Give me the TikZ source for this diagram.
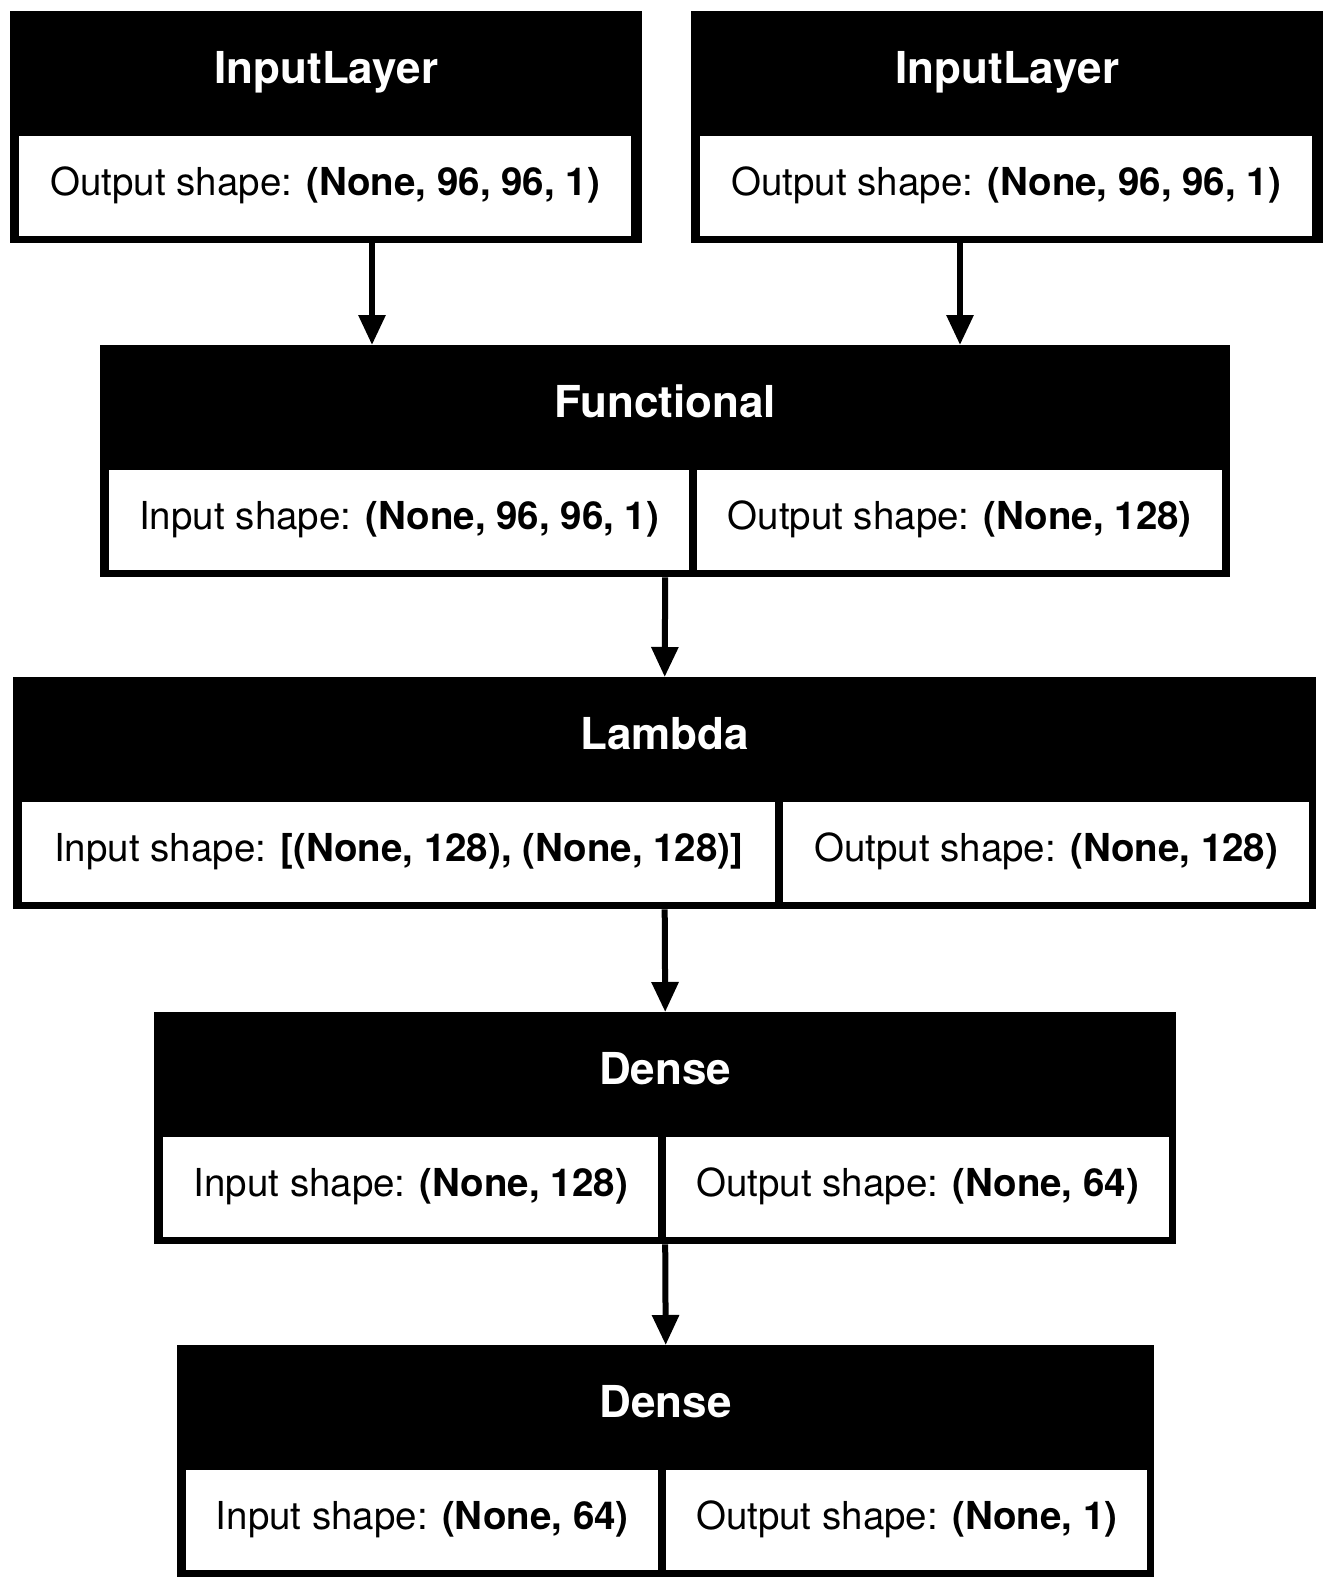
\documentclass[tikz,border=0pt]{standalone}
\usepackage{fontspec}
\setmainfont{TeX Gyre Heros}
\usetikzlibrary{arrows.meta}

\begin{document}
\begin{tikzpicture}
            [x=1pt,y=-1pt,
             layer/.style={fill=black,text=white,inner sep=0pt,anchor=north west,
                           minimum height=232pt,text height=72pt,text depth=160pt,
                           font=\fontsize{44}{52}\selectfont\bfseries},
             cell/.style={fill=white,inner sep=0pt,anchor=north west,
                          minimum height=100pt,text height=59.5pt,text depth=40.5pt,
                          font=\fontsize{38.5}{46}\selectfont},
             arr/.style={line width=6pt,-{Triangle[length=30pt,width=26pt]}}]
            \fill[white] (0,0) rectangle (1333,1589);
            \useasboundingbox (0,0) rectangle (1333,1589);

            % the two inputs
            \node[layer, minimum width=632pt] (in1) at (10,11) {InputLayer};
            \node[cell, minimum width=612pt] (in1out) at (19,136) {Output shape: \textbf{(None, 96, 96, 1)}};
            \node[layer, minimum width=632pt] (in2) at (691,11) {InputLayer};
            \node[cell, minimum width=612pt] (in2out) at (700,136) {Output shape: \textbf{(None, 96, 96, 1)}};

            % shared network
            \node[layer, minimum width=1130pt] (func) at (100,345) {Functional};
            \node[cell, minimum width=580pt] (funcin) at (109,470) {Input shape: \textbf{(None, 96, 96, 1)}};
            \node[cell, minimum width=525pt] (funcout) at (697,470) {Output shape: \textbf{(None, 128)}};

            \node[layer, minimum width=1303pt] (lam) at (13,677) {Lambda};
            \node[cell, minimum width=753pt] (lamin) at (22,802) {Input shape: \textbf{[(None, 128), (None, 128)]}};
            \node[cell, minimum width=526pt] (lamout) at (783,802) {Output shape: \textbf{(None, 128)}};

            \node[layer, minimum width=1022pt] (dense1) at (154,1012) {Dense};
            \node[cell, minimum width=495pt] (d1in) at (163,1137) {Input shape: \textbf{(None, 128)}};
            \node[cell, minimum width=503pt] (d1out) at (666,1137) {Output shape: \textbf{(None, 64)}};

            \node[layer, minimum width=977pt] (dense2) at (177,1345) {Dense};
            \node[cell, minimum width=472pt] (d2in) at (186,1470) {Input shape: \textbf{(None, 64)}};
            \node[cell, minimum width=481pt] (d2out) at (666,1470) {Output shape: \textbf{(None, 1)}};

            \coordinate (fin1) at (372,345);
            \coordinate (fin2) at (960,345);
            \draw[arr] (in1.south -| fin1) -- (fin1);
            \draw[arr] (in2.south -| fin2) -- (fin2);
            \draw[arr] (func.south) -- (lam.north);
            \draw[arr] (lam.south) -- (dense1.north);
            \draw[arr] (dense1.south) -- (dense2.north);

        \end{tikzpicture}
\end{document}
